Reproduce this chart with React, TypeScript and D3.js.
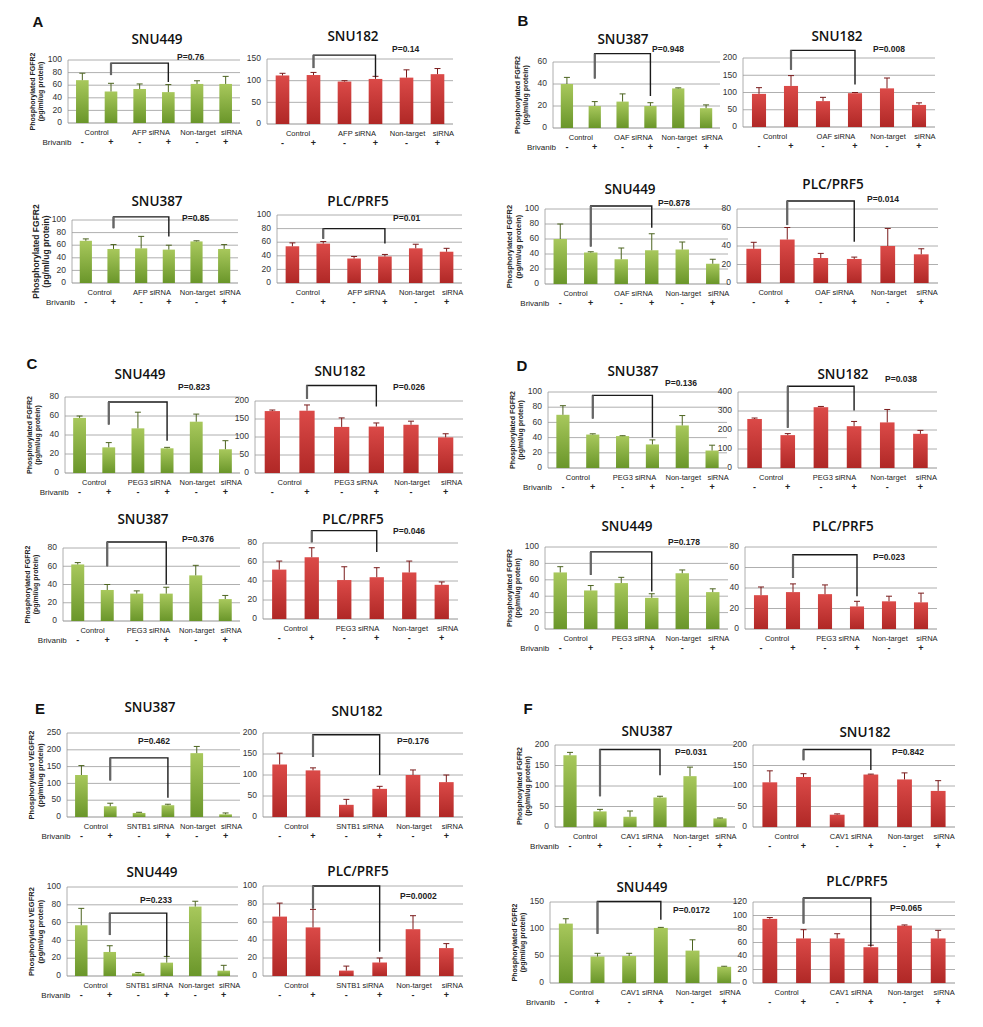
import React from "react";
import * as d3 from "d3";

// ---------- DATA ----------
const groups = ["Control -", "Control +", "siRNA -", "siRNA +", "Non-target -", "Non-target +"];
const brivanib = ["-", "+", "-", "+", "-", "+"];

const A_SNU449_mean = [68, 50, 54, 49, 62, 62];
const A_SNU449_err = [11, 13, 8, 12, 5, 12];
const A_SNU182_mean = [112, 113, 98, 104, 107, 115];
const A_SNU182_err = [5, 6, 2, 6, 18, 13];
const A_SNU387_mean = [67, 54, 55, 53, 66, 54];
const A_SNU387_err = [3, 7, 19, 7, 1, 7];
const A_PLC_mean = [54, 58, 36, 39, 51, 46];
const A_PLC_err = [5, 3, 3, 3, 6, 5];

const B_SNU387_mean = [40, 20, 24, 20, 36, 18];
const B_SNU387_err = [6, 4, 7, 3, 0.5, 3];
const B_SNU182_mean = [96, 119, 75, 98, 112, 64];
const B_SNU182_err = [18, 30, 11, 2, 30, 6];
const B_SNU449_mean = [60, 42, 33, 45, 46, 27];
const B_SNU449_err = [20, 1, 15, 22, 10, 6];
const B_PLC_mean = [37, 47, 27, 26, 40, 31];
const B_PLC_err = [7, 13, 5, 2, 19, 6];

const C_SNU449_mean = [58, 27, 47, 26, 54, 25];
const C_SNU449_err = [2, 5, 17, 1, 8, 9];
const C_SNU182_mean = [172, 173, 128, 129, 134, 99];
const C_SNU182_err = [3, 16, 25, 10, 10, 10];
const C_SNU387_mean = [62, 34, 30, 30, 50, 24];
const C_SNU387_err = [2, 6, 3, 7, 11, 4];
const C_PLC_mean = [52, 65, 41, 44, 49, 36];
const C_PLC_err = [9, 10, 14, 10, 12, 3];

const D_SNU387_mean = [70, 44, 42, 31, 56, 23];
const D_SNU387_err = [12, 1, 0.5, 6, 13, 7];
const D_SNU182_mean = [258, 173, 320, 220, 240, 180];
const D_SNU182_err = [5, 8, 4, 25, 68, 18];
const D_SNU449_mean = [69, 47, 56, 38, 68, 45];
const D_SNU449_err = [7, 6, 7, 5, 4, 4];
const D_PLC_mean = [33, 36, 34, 22, 27, 26];
const D_PLC_err = [8, 8, 9, 5, 5, 9];

const E_SNU387_mean = [125, 32, 12, 35, 190, 8];
const E_SNU387_err = [28, 9, 2, 3, 20, 4];
const E_SNU182_mean = [125, 111, 29, 67, 100, 83];
const E_SNU182_err = [27, 6, 13, 6, 12, 17];
const E_SNU449_mean = [57, 27, 3, 15, 78, 6];
const E_SNU449_err = [19, 7, 1, 7, 6, 6];
const E_PLC_mean = [66, 54, 6, 15, 52, 31];
const E_PLC_err = [15, 20, 5, 5, 15, 5];

const F_SNU387_mean = [175, 38, 25, 72, 124, 21];
const F_SNU387_err = [7, 5, 14, 3, 22, 1];
const F_SNU182_mean = [109, 122, 30, 128, 116, 88];
const F_SNU182_err = [28, 8, 2, 1, 16, 25];
const F_SNU449_mean = [110, 49, 50, 102, 60, 30];
const F_SNU449_err = [9, 6, 5, 1, 20, 1];
const F_PLC_mean = [95, 66, 66, 53, 85, 66];
const F_PLC_err = [2, 13, 7, 3, 1, 12];

const pValues = ["P=0.76", "P=0.14", "P=0.85", "P=0.01", "P=0.948", "P=0.008", "P=0.878", "P=0.014",
  "P=0.823", "P=0.026", "P=0.376", "P=0.046", "P=0.136", "P=0.038", "P=0.178", "P=0.023",
  "P=0.462", "P=0.176", "P=0.233", "P=0.0002", "P=0.031", "P=0.842", "P=0.0172", "P=0.065"];

const panelLetters = ["A", "B", "C", "D", "E", "F"];

// ---------- LAYOUT ----------
type Cfg = {
  title: string; mean: number[]; err: number[]; p: string; si: string;
  x0: number; x1: number; yT: number; yB: number; max: number; step: number;
  tx: number; ty: number; br: number[]; px: number; py: number;
  left: boolean; ylab?: string; yfs?: number;
};

const FG = "Phosphorylated FGFR2";
const VG = "Phosphorylated VEGFR2";

const charts: Cfg[] = [
  { title: "SNU449", mean: A_SNU449_mean, err: A_SNU449_err, p: pValues[0], si: "AFP  siRNA", x0: 68, x1: 240, yT: 60, yB: 123, max: 100, step: 20, tx: 157, ty: 40, br: [95, 76, 65], px: 177, py: 58, left: true, ylab: FG, yfs: 7 },
  { title: "SNU182", mean: A_SNU182_mean, err: A_SNU182_err, p: pValues[1], si: "AFP siRNA", x0: 267, x1: 453, yT: 59, yB: 124, max: 150, step: 50, tx: 353, ty: 37, br: [159, 129, 108], px: 392, py: 50, left: false },
  { title: "SNU387", mean: A_SNU387_mean, err: A_SNU387_err, p: pValues[2], si: "AFP siRNA", x0: 72, x1: 238, yT: 220, yB: 283, max: 100, step: 20, tx: 157, ty: 202, br: [105, 87, 74], px: 182, py: 219, left: true, ylab: FG, yfs: 8.5 },
  { title: "PLC/PRF5", mean: A_PLC_mean, err: A_PLC_err, p: pValues[3], si: "AFP siRNA", x0: 277, x1: 462, yT: 215, yB: 283, max: 100, step: 20, tx: 358, ty: 202, br: [80, 65, 58], px: 393, py: 219, left: false },

  { title: "SNU387", mean: B_SNU387_mean, err: B_SNU387_err, p: pValues[4], si: "OAF  siRNA", x0: 553, x1: 720, yT: 62, yB: 128, max: 60, step: 20, tx: 623, ty: 40, br: [67.6, 45, 29], px: 652, py: 50, left: true, ylab: FG, yfs: 7 },
  { title: "SNU182", mean: B_SNU182_mean, err: B_SNU182_err, p: pValues[5], si: "OAF  siRNA", x0: 743, x1: 935, yT: 58, yB: 127, max: 200, step: 50, tx: 837, ty: 37, br: [222, 166, 123], px: 873, py: 50, left: false },
  { title: "SNU449", mean: B_SNU449_mean, err: B_SNU449_err, p: pValues[6], si: "OAF  siRNA", x0: 545, x1: 728, yT: 209, yB: 284, max: 100, step: 20, tx: 630, ty: 190, br: [104, 50, 75], px: 658, py: 204, left: true, ylab: FG, yfs: 7.5 },
  { title: "PLC/PRF5", mean: B_PLC_mean, err: B_PLC_err, p: pValues[7], si: "OAF  siRNA", x0: 737, x1: 938, yT: 209, yB: 283, max: 80, step: 20, tx: 833, ty: 185, br: [88.7, 62.6, 44.5], px: 867, py: 200, left: false },

  { title: "SNU449", mean: C_SNU449_mean, err: C_SNU449_err, p: pValues[8], si: "PEG3 siRNA", x0: 65, x1: 240, yT: 397, yB: 473, max: 80, step: 20, tx: 140, ty: 375, br: [74.7, 51, 34], px: 178, py: 388, left: true, ylab: FG, yfs: 7 },
  { title: "SNU182", mean: C_SNU182_mean, err: C_SNU182_err, p: pValues[9], si: "PEG3 siRNA", x0: 255, x1: 463, yT: 401, yB: 473, max: 200, step: 50, tx: 340, ty: 372, br: [243, 206, 185], px: 393, py: 388, left: false },
  { title: "SNU387", mean: C_SNU387_mean, err: C_SNU387_err, p: pValues[10], si: "PEG3 siRNA", x0: 63, x1: 240, yT: 548, yB: 621, max: 80, step: 20, tx: 143, ty: 520, br: [86.6, 60, 40], px: 182, py: 540, left: true, ylab: FG, yfs: 7 },
  { title: "PLC/PRF5", mean: C_PLC_mean, err: C_PLC_err, p: pValues[11], si: "PEG3 siRNA", x0: 263, x1: 458, yT: 543, yB: 619, max: 80, step: 20, tx: 353, ty: 520, br: [93, 80.7, 70.5], px: 393, py: 532, left: false },

  { title: "SNU387", mean: D_SNU387_mean, err: D_SNU387_err, p: pValues[12], si: "PEG3 siRNA", x0: 548, x1: 727, yT: 392, yB: 468, max: 100, step: 20, tx: 633, ty: 372, br: [95.6, 65, 40], px: 665, py: 384, left: true, ylab: FG, yfs: 7 },
  { title: "SNU182", mean: D_SNU182_mean, err: D_SNU182_err, p: pValues[13], si: "PEG3 siRNA", x0: 738, x1: 937, yT: 392, yB: 468, max: 400, step: 100, tx: 843, ty: 375, br: [430, 212, 303], px: 885, py: 380, left: false },
  { title: "SNU449", mean: D_SNU449_mean, err: D_SNU449_err, p: pValues[14], si: "PEG3 siRNA", x0: 545, x1: 728, yT: 547, yB: 629, max: 100, step: 20, tx: 627, ty: 527, br: [94, 66, 45.6], px: 668, py: 543, left: true, ylab: FG, yfs: 7 },
  { title: "PLC/PRF5", mean: D_PLC_mean, err: D_PLC_err, p: pValues[15], si: "PEG3 siRNA", x0: 745, x1: 937, yT: 547, yB: 629, max: 80, step: 20, tx: 843, ty: 527, br: [72.5, 49.8, 31.9], px: 873, py: 558, left: false },

  { title: "SNU387", mean: E_SNU387_mean, err: E_SNU387_err, p: pValues[16], si: "SNTB1  siRNA", x0: 67, x1: 240, yT: 733, yB: 817, max: 250, step: 50, tx: 150, ty: 708, br: [176, 109, 57], px: 138, py: 742, left: true, ylab: VG, yfs: 7.5 },
  { title: "SNU182", mean: E_SNU182_mean, err: E_SNU182_err, p: pValues[17], si: "SNTB1  siRNA", x0: 263, x1: 463, yT: 733, yB: 817, max: 200, step: 50, tx: 357, ty: 712, br: [196, 143, 100], px: 397, py: 742, left: false },
  { title: "SNU449", mean: E_SNU449_mean, err: E_SNU449_err, p: pValues[18], si: "SNTB1 siRNA", x0: 67, x1: 238, yT: 887, yB: 976, max: 100, step: 20, tx: 152, ty: 873, br: [70.6, 46, 21.5], px: 140, py: 901, left: true, ylab: VG, yfs: 7.5 },
  { title: "PLC/PRF5", mean: E_PLC_mean, err: E_PLC_err, p: pValues[19], si: "SNTB1  siRNA", x0: 263, x1: 463, yT: 886, yB: 976, max: 100, step: 20, tx: 358, ty: 872, br: [100, 75, 27], px: 400, py: 897, left: false },

  { title: "SNU387", mean: F_SNU387_mean, err: F_SNU387_err, p: pValues[20], si: "CAV1  siRNA", x0: 555, x1: 735, yT: 745, yB: 827, max: 200, step: 50, tx: 647, ty: 732, br: [189, 75, 126.5], px: 675, py: 753, left: true, ylab: FG, yfs: 7 },
  { title: "SNU182", mean: F_SNU182_mean, err: F_SNU182_err, p: pValues[21], si: "CAV1  siRNA", x0: 753, x1: 955, yT: 745, yB: 827, max: 200, step: 50, tx: 865, ty: 733, br: [189, 163, 139], px: 892, py: 753, left: false },
  { title: "SNU449", mean: F_SNU449_mean, err: F_SNU449_err, p: pValues[22], si: "CAV1  siRNA", x0: 550, x1: 740, yT: 902, yB: 983, max: 150, step: 50, tx: 642, ty: 888, br: [151, 91, 117], px: 673, py: 911, left: true, ylab: FG, yfs: 7 },
  { title: "PLC/PRF5", mean: F_PLC_mean, err: F_PLC_err, p: pValues[23], si: "CAV1  siRNA", x0: 753, x1: 955, yT: 902, yB: 983, max: 120, step: 20, tx: 857, ty: 882, br: [126, 88, 55], px: 890, py: 909, left: false },
];

const letterPos = [[38, 23], [523, 22], [32, 365], [522, 367], [40, 710], [528, 710]];

const FONT = "'Liberation Sans', Arial, sans-serif";

function Chart({ c }: { c: Cfg }) {
  const x = d3.scaleBand<string>().domain(groups).range([c.x0, c.x1]).paddingInner(0.56).paddingOuter(0.28);
  const y = d3.scaleLinear().domain([0, c.max]).range([c.yB, c.yT]);
  const ticks = d3.range(0, c.max + c.step / 2, c.step);
  const bw = x.bandwidth();
  const cx = (i: number) => (x(groups[i]) as number) + bw / 2;
  const fill = c.left ? "url(#gGreen)" : "url(#gRed)";
  const errColor = c.left ? "#4d6420" : "#7a1b1b";
  const rows = c.yB;
  const b1 = cx(1), b3 = cx(3);
  return (
    <g>
      <text x={c.tx} y={c.ty} textAnchor="middle" dominantBaseline="middle" fontFamily="'Open Sans', sans-serif" fontWeight={600} fontSize={13.5} fill="#111">{c.title}</text>
      {ticks.map((t) => (
        <g key={t}>
          <line x1={c.x0} x2={c.x1} y1={y(t)} y2={y(t)} stroke={t === 0 ? "#777" : "#9a9a9a"} strokeWidth={0.8} />
          <text x={c.x0 - 6} y={y(t)} textAnchor="end" dominantBaseline="middle" fontFamily={FONT} fontSize={8.5} fill="#333">{t}</text>
        </g>
      ))}
      <line x1={c.x0} x2={c.x0} y1={c.yT} y2={c.yB} stroke="#999" strokeWidth={0.8} />
      {c.mean.map((v, i) => (
        <g key={i}>
          <rect x={x(groups[i])} y={y(v)} width={bw} height={c.yB - y(v)} fill={fill} />
          <line x1={cx(i)} x2={cx(i)} y1={y(v)} y2={y(v + c.err[i])} stroke={errColor} strokeWidth={1} />
          <line x1={cx(i) - 3} x2={cx(i) + 3} y1={y(v + c.err[i])} y2={y(v + c.err[i])} stroke={errColor} strokeWidth={1} />
          <text x={cx(i)} y={rows + 22} textAnchor="middle" fontFamily={FONT} fontSize={9} fontWeight={700} fill="#222">{brivanib[i]}</text>
        </g>
      ))}
      <path d={`M${b1},${y(c.br[1])}V${y(c.br[0])}H${b3}V${y(c.br[2])}`} fill="none" stroke="#1a1a1a" strokeWidth={1.4} />
      <line x1={b1} x2={b1} y1={y(c.br[0])} y2={y(c.br[1])} stroke="#666" strokeWidth={2.2} />
      <text x={c.px} y={c.py} dominantBaseline="middle" fontFamily={FONT} fontSize={8.5} fontWeight={700} fill="#222">{c.p}</text>
      <text x={(cx(0) + cx(1)) / 2} y={rows + 12} textAnchor="middle" fontFamily={FONT} fontSize={7.5} fill="#222">Control</text>
      <text x={(cx(2) + cx(3)) / 2 - 3} y={rows + 12} textAnchor="middle" fontFamily={FONT} fontSize={7.5} fill="#222">{c.si}</text>
      <text x={cx(4) + 1} y={rows + 12} textAnchor="middle" fontFamily={FONT} fontSize={7.5} fill="#222">Non-target</text>
      <text x={cx(5) + 6} y={rows + 12} textAnchor="middle" fontFamily={FONT} fontSize={7.5} fill="#222">siRNA</text>
      {c.left && (
        <text x={cx(0) - 11} y={rows + 22} textAnchor="end" fontFamily={FONT} fontSize={8} fill="#222">Brivanib</text>
      )}
      {c.left && c.ylab && (
        <text transform={`translate(${c.x0 - 33},${(c.yT + c.yB) / 2}) rotate(-90)`} textAnchor="middle" fontFamily={FONT} fontSize={c.yfs} fontWeight={700} fill="#222">
          <tspan x={0} dy={0}>{c.ylab}</tspan>
          <tspan x={0} dy={(c.yfs || 7) + 1}>(pg/ml/ug protein)</tspan>
        </text>
      )}
    </g>
  );
}

export default function App() {
  return (
    <svg width={983} height={1027} style={{ position: "absolute", left: 0, top: 0, background: "#fff" }}>
      <defs>
        <linearGradient id="gGreen" x1="0" y1="0" x2="0" y2="1">
          <stop offset="0%" stopColor="#a8c85c" />
          <stop offset="100%" stopColor="#6a962a" />
        </linearGradient>
        <linearGradient id="gRed" x1="0" y1="0" x2="0" y2="1">
          <stop offset="0%" stopColor="#db4a48" />
          <stop offset="100%" stopColor="#b02826" />
        </linearGradient>
      </defs>
      <rect width={983} height={1027} fill="#fff" />
      {panelLetters.map((l, i) => (
        <text key={l} x={letterPos[i][0]} y={letterPos[i][1]} textAnchor="middle" dominantBaseline="middle" fontFamily={FONT} fontWeight={700} fontSize={15} fill="#111">{l}</text>
      ))}
      {charts.map((c, i) => <Chart key={i} c={c} />)}
    </svg>
  );
}
